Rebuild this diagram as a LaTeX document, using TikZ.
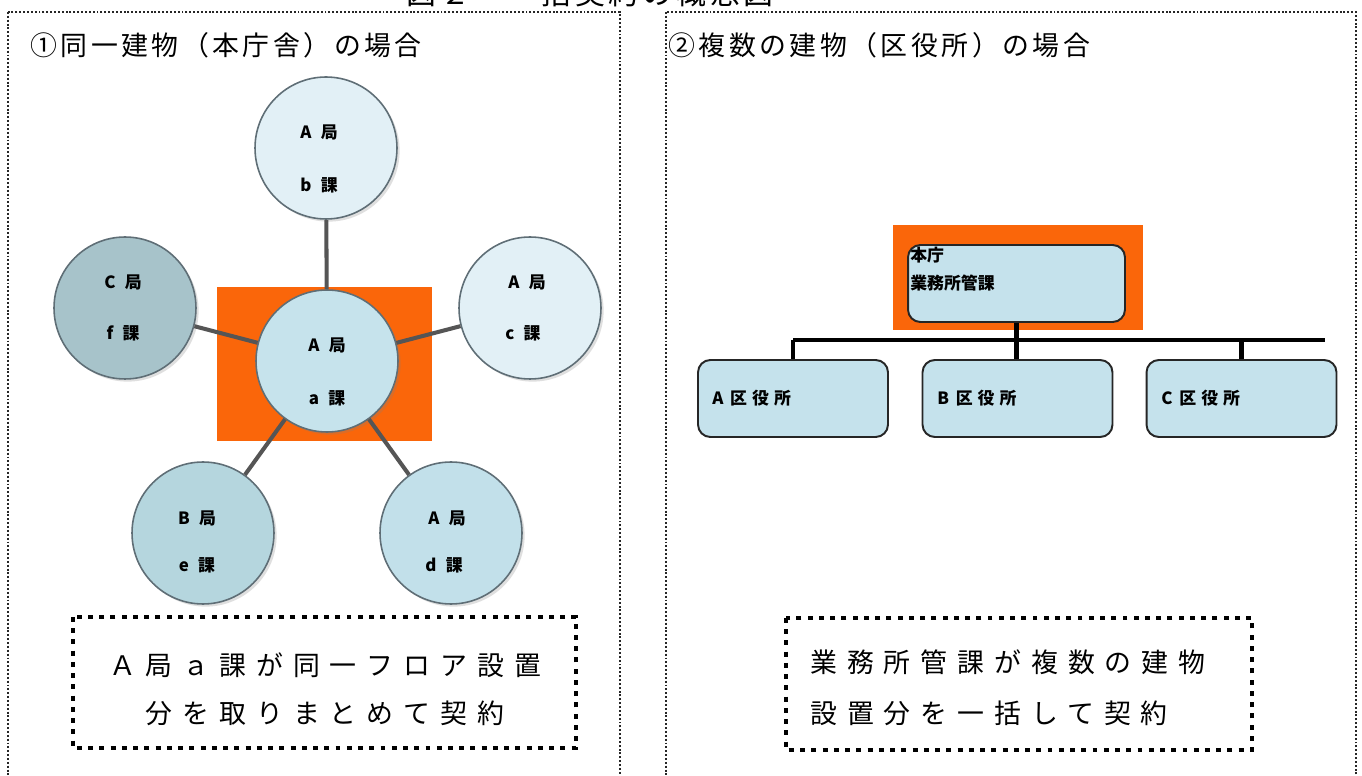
\documentclass[tikz,border=0pt]{standalone}
\usepackage{fontspec}
\setmainfont{Noto Sans CJK JP}
\newfontfamily\jphead{Noto Sans CJK JP}[LetterSpace=13]
\newfontfamily\jpbig{Noto Sans CJK JP}[LetterSpace=37]
\newfontfamily\jpsmall{Noto Sans CJK JP}
\usetikzlibrary{shadows}
\definecolor{orng}{RGB}{250,102,10}
\definecolor{cLight}{RGB}{226,240,246}
\definecolor{cMid}{RGB}{198,227,236}
\definecolor{cDark}{RGB}{167,195,202}
\definecolor{cE}{RGB}{181,214,222}
\definecolor{cD}{RGB}{194,224,234}
\definecolor{boxfill}{RGB}{197,226,236}
\definecolor{cborder}{RGB}{95,110,118}
\definecolor{connc}{RGB}{85,85,85}
\begin{document}
\begin{tikzpicture}[x=0.02cm,y=-0.02cm,
  outerbox/.style={draw=black!85,line width=1.2pt,dash pattern=on 1.1pt off 1.1pt},
  notebox/.style={draw=black,line width=2.8pt,dash pattern=on 2.8pt off 3.6pt},
  circ/.style={circle,draw=cborder,line width=0.9pt,minimum size=2.84cm,inner sep=0pt,
    drop shadow={opacity=0.25,shadow xshift=1.5pt,shadow yshift=-1.5pt}},
  ctext/.style={font=\jpsmall\bfseries\fontsize{9.6}{11}\selectfont,inner sep=0pt},
  conn/.style={draw=connc,line width=2.3pt},
  rbox/.style={draw=black!85,line width=1.1pt,rounded corners=7pt,fill=boxfill,
    minimum width=3.8cm,minimum height=1.54cm,inner sep=0pt},
  tree/.style={draw=black,line width=2.3pt},
  head/.style={font=\jphead\fontsize{15.3}{18}\selectfont,inner sep=0pt,anchor=west},
  big/.style={font=\jpbig\fontsize{15.3}{27.5}\selectfont,inner sep=0pt}
]
\useasboundingbox (0,0) rectangle (1362,776);
\clip (0,0) rectangle (1362,776);
\fill[white] (0,0) rectangle (1362,776);

% title (cut off at top, as in the reference)
\node[font=\jphead\fontsize{17}{20}\selectfont,inner sep=0pt,anchor=base] (title) at (590,5) {図２　一括契約の概念図};

% outer dotted boxes
\draw[outerbox] (8,12) rectangle (620,800);
\draw[outerbox] (666,12) rectangle (1356,800);

\node[head] (h1) at (30,45) {①同一建物（本庁舎）の場合};
\node[head] (h2) at (668,45) {②複数の建物（区役所）の場合};

% ---------- left diagram ----------
\node[fill=orng,minimum width=4.3cm,minimum height=3.08cm,inner sep=0pt] (orL) at (324.5,364) {};

\node[circ,fill=cMid]   (ca) at (327,361) {};
\node[circ,fill=cLight] (cb) at (326,148) {};
\node[circ,fill=cDark]  (cf) at (125,308) {};
\node[circ,fill=cLight] (cc) at (530,308) {};
\node[circ,fill=cE]     (ce) at (203,533) {};
\node[circ,fill=cD]     (cd) at (451,533) {};

\draw[conn] (ca) -- (cb);
\draw[conn] (ca) -- (cf);
\draw[conn] (ca) -- (cc);
\draw[conn] (ca) -- (ce);
\draw[conn] (ca) -- (cd);

\node[ctext] (ta1) at (327,345) {A\hspace{0.55em}局};
\node[ctext] (ta2) at (327,398) {a\hspace{0.55em}課};
\node[ctext] (tb1) at (319,132) {A\hspace{0.55em}局};
\node[ctext] (tb2) at (319,185) {b\hspace{0.55em}課};
\node[ctext] (tf1) at (123,282) {C\hspace{0.55em}局};
\node[ctext] (tf2) at (123,333) {f\hspace{0.55em}課};
\node[ctext] (tc1) at (527,282) {A\hspace{0.55em}局};
\node[ctext] (tc2) at (523,333) {c\hspace{0.55em}課};
\node[ctext] (te1) at (197,518) {B\hspace{0.55em}局};
\node[ctext] (te2) at (197,565) {e\hspace{0.55em}課};
\node[ctext] (td1) at (447,518) {A\hspace{0.55em}局};
\node[ctext] (td2) at (444,565) {d\hspace{0.55em}課};

\draw[notebox] (73,617) rectangle (576,748);
\node[big,align=center] (nL) at (325,689) {Ａ局ａ課が同一フロア設置\\分を取りまとめて契約};

% ---------- right diagram ----------
\node[fill=orng,minimum width=5cm,minimum height=2.1cm,inner sep=0pt] (orR) at (1018,277.5) {};
\node[rbox,minimum width=4.34cm] (top) at (1016.5,283.5) {};
\node[ctext,anchor=west,align=left,font=\jpsmall\bfseries\fontsize{9.6}{15.8}\selectfont] (ttop) at (910,269) {本庁\\業務所管課};

\node[rbox] (kA) at (793,398.5) {};
\node[rbox] (kB) at (1017.5,398.5) {};
\node[rbox] (kC) at (1241.5,398.5) {};
\node[ctext,anchor=west] (tA) at (712,398) {A\hspace{0.4em}区\hspace{0.3em}役\hspace{0.3em}所};
\node[ctext,anchor=west] (tB) at (937,398) {B\hspace{0.4em}区\hspace{0.3em}役\hspace{0.3em}所};
\node[ctext,anchor=west] (tC) at (1161,398) {C\hspace{0.4em}区\hspace{0.3em}役\hspace{0.3em}所};

\coordinate (jL) at (793,340);
\coordinate (jR) at (1325,340);
\draw[tree] (jL) -- (jR);
\draw[tree] (top.south) -- (top.south |- kB.north);
\draw[tree] (jL) -- (kA.north);
\draw[tree] (kC.north |- jL) -- (kC.north);

\draw[notebox] (786,618) rectangle (1252,750);
\node[big,anchor=west,align=left,font=\jpbig\fontsize{15.3}{28.9}\selectfont] (nR) at (810,687.5) {業務所管課が複数の建物\\設置分を一括して契約};
\end{tikzpicture}
\end{document}
